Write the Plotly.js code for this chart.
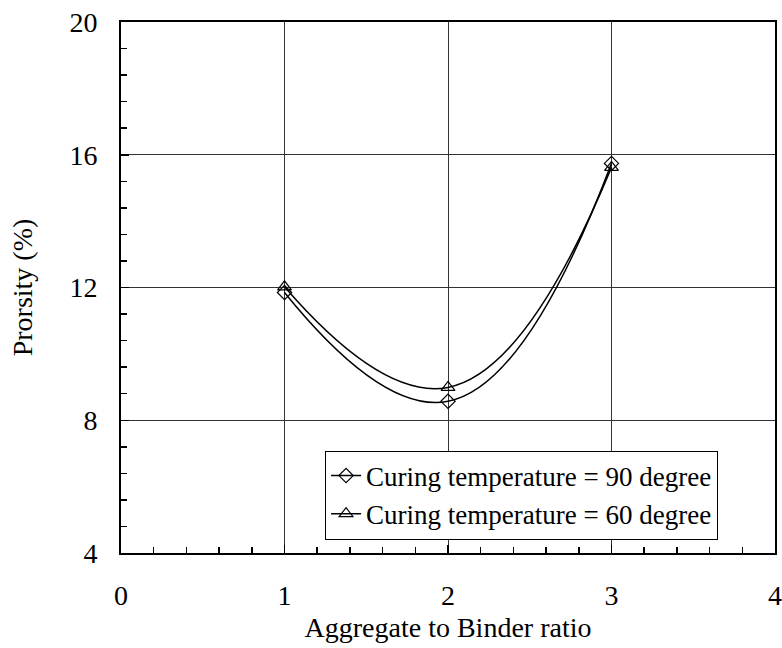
<!DOCTYPE html>
<html><head><meta charset="utf-8">
<script src="https://cdn.plot.ly/plotly-3.0.1.min.js"></script>
<style>body{margin:0;background:#fff}#c{width:782px;height:648px}</style>
</head><body><div id="c"></div>
<script>
const ratio = [1, 2, 3];
const por90 = [11.85, 8.57, 15.74];
const por60 = [12.02, 8.99, 15.62];
const name90 = 'Curing temperature = 90 degree';
const name60 = 'Curing temperature = 60 degree';

const font = {family: '"Liberation Serif", "Times New Roman", serif', size: 28, color: '#000'};
const legFont = {family: font.family, size: 27, color: '#000'};
const traces = [
  {x: ratio, y: por90, name: name90, mode: 'lines+markers', type: 'scatter',
   line: {color: '#000', width: 1.5, shape: 'spline', smoothing: 1.3},
   marker: {symbol: 'diamond-open', size: 11, color: '#000', line: {width: 1.2}}},
  {x: ratio, y: por60, name: name60, mode: 'lines+markers', type: 'scatter',
   line: {color: '#000', width: 1.5, shape: 'spline', smoothing: 1.3},
   marker: {symbol: 'triangle-up-open', size: 12, color: '#000', line: {width: 1.2}}}
];
const layout = {
  width: 782, height: 648,
  margin: {l: 121, r: 7, t: 22, b: 95},
  paper_bgcolor: '#fff', plot_bgcolor: '#fff',
  font: font,
  showlegend: true,
  legend: {x: 0.312, y: 0.193, xanchor: 'left', yanchor: 'top',
    bordercolor: '#000', borderwidth: 1, bgcolor: '#fff',
    font: legFont, tracegroupgap: 0, itemwidth: 30},
  xaxis: {range: [0, 4], dtick: 1, tick0: 0,
    showline: true, linecolor: '#000', linewidth: 2, mirror: true,
    ticks: 'inside', ticklen: 8, tickcolor: '#000', tickwidth: 1.5,
    ticklabelstandoff: 16,
    showgrid: true, gridcolor: '#333', gridwidth: 1, zeroline: false,
    minor: {dtick: 0.2, ticks: 'inside', ticklen: 6, tickcolor: '#000', tickwidth: 1.5, showgrid: false},
    title: {text: 'Aggregate to Binder ratio', font: font, standoff: 8},
    tickfont: font},
  yaxis: {range: [4, 20], dtick: 4, tick0: 4,
    showline: true, linecolor: '#000', linewidth: 2, mirror: true,
    ticks: 'inside', ticklen: 8, tickcolor: '#000', tickwidth: 1.5,
    ticklabelstandoff: 16,
    showgrid: true, gridcolor: '#333', gridwidth: 1, zeroline: false,
    minor: {dtick: 0.8, ticks: 'inside', ticklen: 6, tickcolor: '#000', tickwidth: 1.5, showgrid: false},
    title: {text: 'Prorsity (%)', font: font, standoff: 29},
    tickfont: font}
};
Plotly.newPlot('c', traces, layout, {displayModeBar: false, staticPlot: true});
</script></body></html>
